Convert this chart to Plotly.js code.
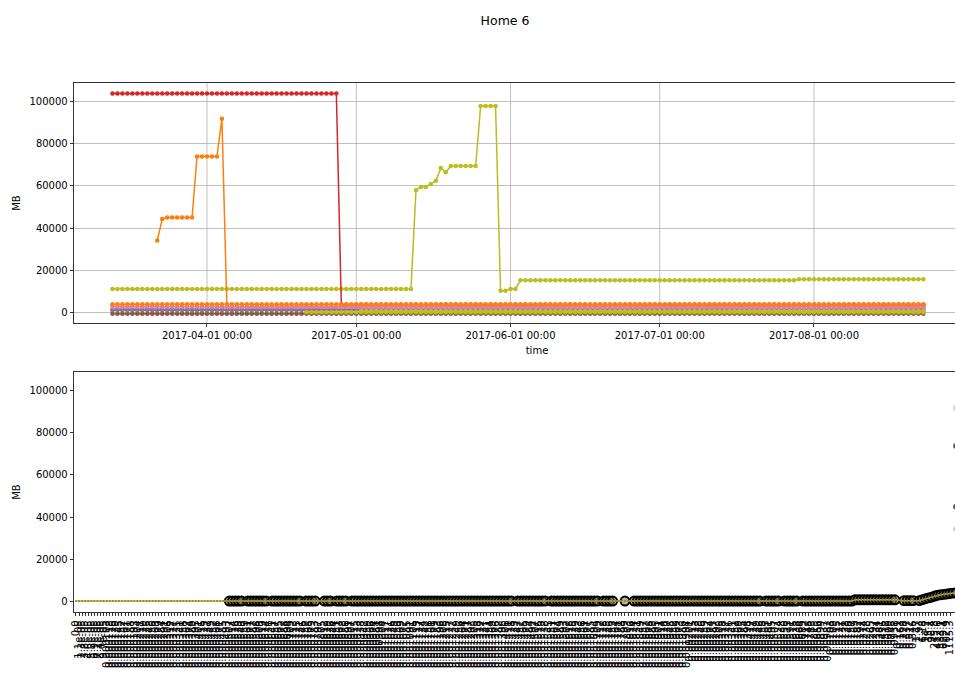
<!DOCTYPE html>
<html><head><meta charset="utf-8">
<script src="https://cdn.plot.ly/plotly-3.0.1.min.js"></script>
<style>html,body{margin:0;padding:0;overflow:hidden;background:#fff}</style>
</head><body><div id="chart" style="width:1000px;height:684px"></div>
<script>
// ---------- data (top panel: daily readings, stored as [value, count] runs) ----------
const startDate = '2017-03-13';
const nDays = 164;
const oliveMainRuns = [[11000,61],[58000,1],[59500,2],[61000,1],[62500,1],[68500,1],[66500,1],[69500,6],[98000,4],[10100,2],[11000,2],[15100,56],[15600,26]];
const redRuns = [[104000,46],[3500,118]];
const orangeStepRuns = [[null,9],[34000,1],[44300,1],[45000,6],[74000,5],[92000,1],[2500,141]];
const orangeBandRuns = [[3700,164]];
const pinkRuns = [[2500,164]];
const purpleRuns = [[1300,164]];
const grayRuns = [[900,124],[null,40]];
const brownRuns = [[-800,164]];
const olive2Runs = [[null,39],[-100,125]];
const olive3Runs = [[null,50],[500,114]];
const tickDates = ['2017-04-01','2017-05-01','2017-06-01','2017-07-01','2017-08-01'];
const tickLabels = ['2017-04-01 00:00','2017-05-01 00:00','2017-06-01 00:00','2017-07-01 00:00','2017-08-01 00:00'];
const yTicks = [0,20000,40000,60000,80000,100000];

// ---------- data (bottom panel: categorical) ----------
const nCats = 288;
const nLabelled = 286;
const bottomLineRuns = [[0,254],[600,15],[200,7]];
const bottomLineTail = [700,1100,1500,1900,2400,2800,3000,3200,3400,3600,3800,3900];
const circleRuns = [[50,54],[56,62],[64,73],[75,78],[81,83],[85,88],[90,97],[98,142],[144,153],[155,170],[172,175],[179,179],[182,223],[225,229],[231,235],[237,267],[270,273],[275,287]];
const edgeIndex = 287;
const edgeValues = [91900,73800,44900,34300];
const bottomLabels = (
"0.0 1.1e-05 2.3e-05 3.8e-05 4.6e-05 5.2e-05 6.9e-05 7.1e-05 8.4e-05 9.7e-05 0.000103 0.000118 0.000126 0.000139 0.000145 0.000152 0.000167 0.000171 0.000188 0.000193 " +
"0.000204 0.000217 0.000229 0.000235 0.000248 0.000256 0.000263 0.000279 0.000284 0.000291 0.000306 0.000312 0.000327 0.000335 0.000341 0.000358 0.000362 0.000374 0.000389 0.000395 " +
"0.000401 0.000416 0.000423 0.000437 0.000449 0.000452 0.000468 0.000471 0.000485 0.000493 0.000507 0.000514 0.000526 0.000538 0.000543 0.000559 0.000561 0.000577 0.000582 0.000598 " +
"0.000603 0.000619 0.000624 0.000636 0.000641 0.000657 0.000665 0.000672 0.000688 0.000694 0.000709 0.000713 0.000725 0.000731 0.000746 0.000752 0.000768 0.000779 0.000783 0.000797 " +
"0.000805 0.000812 0.000829 0.000836 0.000844 0.000851 0.000863 0.000878 0.000886 0.000891 0.000907 0.000915 0.000923 0.000938 0.000942 0.000959 0.000966 0.000974 0.000981 0.000998 " +
"0.001004 0.001017 0.001021 0.001036 0.001048 0.001053 0.001069 0.001072 0.001085 0.001091 0.001106 0.001113 0.001127 0.001134 0.001142 0.001158 0.001161 0.001179 0.001183 0.001196 " +
"0.001208 0.001215 0.001227 0.001232 0.001249 0.001256 0.001264 0.001271 0.001287 0.001293 0.001305 0.001318 0.001322 0.001337 0.001341 0.001354 0.001369 0.001376 0.001382 0.001398 " +
"0.001406 0.001411 0.001428 0.001433 0.001447 0.001452 0.001465 0.001479 0.001484 0.001492 0.001507 0.001516 0.001523 0.001538 0.001545 0.001551 0.001567 0.001574 0.001589 0.001593 " +
"0.001602 0.001618 0.001625 0.001639 0.001643 0.001656 0.001661 0.001677 0.001685 0.001694 0.001709 0.001712 0.001728 0.001735 0.001746 0.001753 0.001764 0.001771 0.001788 0.001799 " +
"0.001803 0.001816 0.001824 0.001831 0.001849 0.001857 0.001862 0.001878 0.001883 0.001895 0.001901 0.001914 0.001926 0.001937 0.001948 0.001952 0.001969 0.001973 0.001986 0.001994 " +
"0.00201 0.00215 0.00223 0.00238 0.00246 0.00259 0.00262 0.00274 0.00287 0.00293 0.00305 0.00318 0.00327 0.00336 0.00341 0.00352 0.00369 0.00375 0.00384 0.00398 " +
"0.00412 0.00427 0.00439 0.00446 0.00458 0.00463 0.00481 0.00495 0.00507 0.00524 0.00538 0.00556 0.00573 0.00591 0.00615 0.00638 0.00664 0.00689 0.00712 0.00748 " +
"0.00783 0.00815 0.00856 0.00894 0.00937 0.00982 0.0103 0.0109 0.0115 0.0122 0.0131 0.0138 0.0146 0.0157 0.0169 0.0182 0.0197 0.0214 0.0238 0.0265 " +
"0.0297 0.0334 0.0381 0.0436 0.0512 0.0609 0.0745 0.0938 0.121 0.163 0.228 0.337 0.512 0.846 1.47 2.93 6.18 14.2 35.7 96.4 " +
"245.8 412.6 583.1 629.4 702.9 1115.3 1487.2 1902.6 2396.4 2815.7 3004.2 3218.9 3397.5 3602.1 3784.6 3913.8 34316.2 44905.7 73849.3 91912.5"
).split(' ');

// ---------- helpers ----------
function expand(runs){ const out=[]; runs.forEach(([v,c])=>{ for(let i=0;i<c;i++) out.push(v); }); return out; }
function dayDates(start,n){ const d0=new Date(start+'T00:00:00Z'); const out=[];
  for(let i=0;i<n;i++){ const d=new Date(d0.getTime()+i*86400000); out.push(d.toISOString().slice(0,10)); } return out; }

const dates = dayDates(startDate, nDays);
const C = {orange:'#ff7f0e', red:'#d62728', olive:'#bcbd22', pink:'#e377c2', gray:'#7f7f7f', brown:'#8c564b', purple:'#9467bd'};

function topTrace(runs,color){
  return {x:dates, y:expand(runs), type:'scatter', mode:'lines+markers', xaxis:'x', yaxis:'y',
    line:{color:color,width:1.5}, marker:{color:color,size:4.5}, connectgaps:false, hoverinfo:'skip'};
}

const traces = [
  topTrace(oliveMainRuns, C.olive),
  topTrace(brownRuns, C.brown),
  topTrace(purpleRuns, C.purple),
  topTrace(grayRuns, C.gray),
  topTrace(olive2Runs, C.olive),
  topTrace(olive3Runs, C.olive),
  topTrace(redRuns, C.red),
  topTrace(orangeStepRuns, C.orange),
  topTrace(pinkRuns, C.pink),
  topTrace(orangeBandRuns, C.orange)
];

// bottom panel
const catIdx = []; for(let i=0;i<nCats;i++) catIdx.push(i);
const bottomVals = expand(bottomLineRuns).concat(bottomLineTail);
const circleY = catIdx.map(i => circleRuns.some(([a,b]) => i>=a && i<=b) ? bottomVals[i] : null);

traces.push({x:catIdx, y:circleY, type:'scatter', mode:'markers', xaxis:'x2', yaxis:'y2',
  marker:{symbol:'circle', size:9, color:'rgba(110,110,110,0.55)', line:{color:'#000', width:1.9}}, hoverinfo:'skip'});
traces.push({x:catIdx, y:bottomVals, type:'scatter', mode:'lines+markers', xaxis:'x2', yaxis:'y2',
  line:{color:C.olive,width:1.5}, marker:{color:'#a0782c',size:2}, hoverinfo:'skip'});
traces.push({x:edgeValues.map(()=>edgeIndex), y:edgeValues, type:'scatter', mode:'markers', xaxis:'x2', yaxis:'y2',
  marker:{size:6, color:['#c8c8c8','#555','#555','#c8c8c8']}, hoverinfo:'skip'});

const tickCommon = {ticks:'outside', ticklen:3.5, tickwidth:0.8, tickcolor:'#000', showline:true, linecolor:'#000',
  linewidth:0.8, zeroline:false, tickfont:{size:10,color:'#000'}};

const W = 1000;
const yLo = -5200, yHi = 109000;
// vertical grid lines of the top panel, at the date ticks
const shapes = tickDates.map(d => ({type:'line', xref:'x', yref:'y domain', x0:d, x1:d, y0:0, y1:1,
  line:{color:'#b0b0b0', width:0.8}, layer:'below'}));
// white mask over a stray rendering line near the cropped right edge of the top panel (between grid rows)
const maskX0 = (936-74)/(W-74), maskX1 = (945-74)/(W-74);
const rowEdges = [yLo].concat(yTicks).concat([yHi]);
for (let k=0;k<rowEdges.length-1;k++){
  const a = (rowEdges[k]-yLo)/(yHi-yLo), b = (rowEdges[k+1]-yLo)/(yHi-yLo);
  shapes.push({type:'rect', xref:'paper', yref:'y domain', x0:maskX0, x1:maskX1, y0:a+0.005, y1:b-0.005,
    fillcolor:'#fff', line:{width:0}, layer:'above'});
}

const layout = {
  width:W, height:684, showlegend:false,
  paper_bgcolor:'#fff', plot_bgcolor:'#fff',
  font:{family:'DejaVu Sans, sans-serif', color:'#000', size:10},
  margin:{l:74, r:0, t:83, b:72},
  shapes: shapes,
  title:{text:'Home 6', font:{size:12.5,color:'#000'}, x:505/W, xanchor:'center', xref:'container', y:1-20.5/684, yanchor:'middle', yref:'container'},
  xaxis:Object.assign({}, tickCommon, {type:'date', anchor:'y', domain:[0,1], mirror:true,
    range:['2017-03-05 06:30','2017-09-07 09:20'], tickmode:'array', tickvals:tickDates, ticktext:tickLabels,
    showgrid:false, title:{text:'time', font:{size:10}, standoff:6}}),
  yaxis:Object.assign({}, tickCommon, {anchor:'x', domain:[289/529,1], range:[yLo,yHi], mirror:false,
    tickmode:'array', tickvals:yTicks, ticktext:yTicks.map(String),
    showgrid:true, gridcolor:'#b0b0b0', gridwidth:0.8, title:{text:'MB', font:{size:10}, standoff:6}}),
  xaxis2:Object.assign({}, tickCommon, {anchor:'y2', domain:[0,1], range:[-0.65,301.3], mirror:true,
    tickmode:'array', tickvals:catIdx.slice(0, Math.min(nLabelled,bottomLabels.length)),
    ticktext:bottomLabels.slice(0,nLabelled), tickangle:-90, showgrid:false}),
  yaxis2:Object.assign({}, tickCommon, {anchor:'x2', domain:[0,240/529], range:[yLo,yHi], mirror:false,
    tickmode:'array', tickvals:yTicks, ticktext:yTicks.map(String),
    showgrid:false, title:{text:'MB', font:{size:10}, standoff:6}})
};

Plotly.newPlot('chart', traces, layout, {staticPlot:true, displayModeBar:false});
</script></body></html>
